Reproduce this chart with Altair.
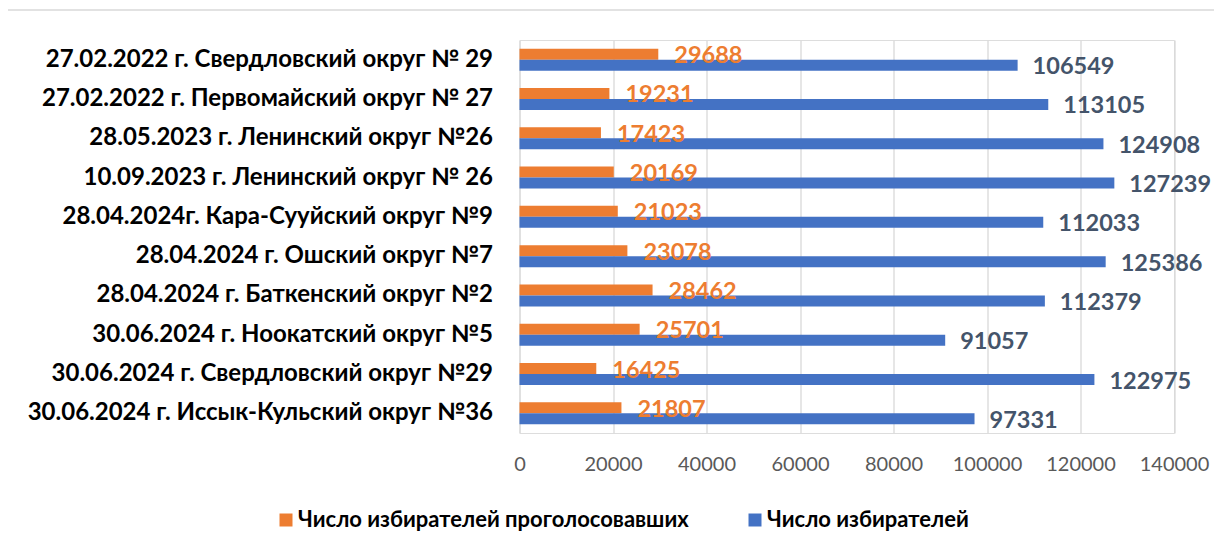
import altair as alt
import pandas as pd

categories = [
    "27.02.2022 г. Свердловский округ  № 29",
    "27.02.2022 г. Первомайский округ № 27",
    "28.05.2023 г. Ленинский округ №26",
    "10.09.2023 г. Ленинский округ № 26",
    "28.04.2024г. Кара-Сууйский округ №9",
    "28.04.2024 г. Ошский округ №7",
    "28.04.2024 г. Баткенский округ №2",
    "30.06.2024 г. Ноокатский округ №5",
    "30.06.2024 г. Свердловский округ №29",
    "30.06.2024 г. Иссык-Кульский округ №36",
]
voted = [29688, 19231, 17423, 20169, 21023, 23078, 28462, 25701, 16425, 21807]
voters = [106549, 113105, 124908, 127239, 112033, 125386, 112379, 91057, 122975, 97331]

S_VOTED = "Число избирателей проголосовавших"
S_VOTERS = "Число избирателей"
series = [S_VOTED, S_VOTERS]
colors = ["#ED7D31", "#4472C4"]
x_ticks = [0, 20000, 40000, 60000, 80000, 100000, 120000, 140000]

rows = []
for c, a, b in zip(categories, voted, voters):
    rows.append({"cat": c, "series": S_VOTED, "value": a})
    rows.append({"cat": c, "series": S_VOTERS, "value": b})
df = pd.DataFrame(rows)

FONT = "Lato"

y_enc = alt.Y("cat:N", sort=categories,
              scale=alt.Scale(paddingInner=0.44, paddingOuter=0.22),
              axis=alt.Axis(title=None, domain=False, ticks=False, labelFont=FONT,
                            labelFontWeight="bold", labelFontSize=24, labelColor="#000000",
                            labelPadding=27, labelLimit=0, grid=False))
yoff = alt.YOffset("series:N", scale=alt.Scale(domain=series, paddingInner=0, paddingOuter=0))
x_enc = alt.X("value:Q",
              scale=alt.Scale(domain=[0, 140000], nice=False),
              axis=alt.Axis(title=None, values=x_ticks, format="d", domain=False, ticks=False,
                            grid=True, gridColor="#D9D9D9", gridWidth=1.3,
                            labelFont=FONT, labelFontSize=20, labelColor="#595959",
                            labelPadding=21, labelFlush=False, labelOverlap=False))

base = alt.Chart(df)

bars = base.mark_bar().encode(
    y=y_enc, yOffset=yoff, x=x_enc,
    color=alt.Color("series:N", scale=alt.Scale(domain=series, range=colors),
                    legend=alt.Legend(title=None, orient="none", legendX=-244.5, legendY=469,
                                      direction="horizontal", symbolType="square",
                                      symbolSize=169, symbolStrokeWidth=0,
                                      labelFont=FONT, labelFontWeight="bold", labelFontSize=22,
                                      labelColor="#000000", columnPadding=55, labelOffset=1,
                                      labelLimit=0)),
)

lab_voted = base.transform_filter(alt.datum.series == S_VOTED).mark_text(
    align="left", baseline="middle", dx=16, dy=2, font=FONT, fontWeight="bold",
    fontSize=23.5, color="#ED7D31").encode(
    y=alt.Y("cat:N", sort=categories), yOffset=yoff, x="value:Q", text="value:Q")

lab_voters = base.transform_filter(alt.datum.series == S_VOTERS).mark_text(
    align="left", baseline="middle", dx=15, dy=2, font=FONT, fontWeight="bold",
    fontSize=23.5, color="#44546A").encode(
    y=alt.Y("cat:N", sort=categories), yOffset=yoff, x="value:Q", text="value:Q")

border = alt.Chart(pd.DataFrame({"a": [0]})).mark_rule(color="#D9D9D9", strokeWidth=1.5).encode(
    x=alt.value(-512), x2=alt.value(700), y=alt.value(-30))

chart = alt.layer(bars, lab_voted, lab_voters, border).properties(
    width=654.5, height=393,
    autosize=alt.AutoSizeParams(type="none"),
    padding={"left": 511.5, "top": 32, "right": 40, "bottom": 100},
).configure_view(stroke=None).configure(background="white")

chart.save("out.html", embed_options={"renderer": "svg", "actions": False})
